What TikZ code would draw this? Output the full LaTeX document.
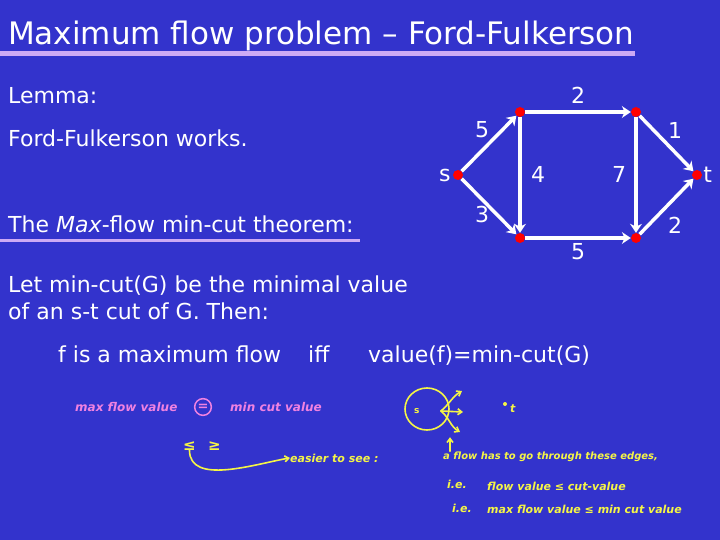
\documentclass[tikz,border=0pt]{standalone}
\usepackage{fontspec}
\setmainfont{DejaVu Sans}
\usetikzlibrary{
    positioning,      % For placing nodes relative to each other
    arrows.meta,      % For modern arrow tips
    calc              % For coordinate calculations
}
\definecolor{slideblue}{RGB}{51,51,204}
\definecolor{barlilac}{RGB}{205,170,245}
\definecolor{chalkpink}{RGB}{240,130,225}
\definecolor{chalkyellow}{RGB}{245,245,70}

\begin{document}
\begin{tikzpicture}[
    x=1pt, y=-1pt, % pixel coordinates, y pointing down
    % Global style settings
    title_style/.style={
        text=white,
        font=\fontsize{31}{36}\selectfont,
        anchor=base west, inner sep=0pt
    },
    body_style/.style={ % Style for the typed slide text
        text=white,
        font=\fontsize{22}{26}\selectfont,
        anchor=base west, inner sep=0pt
    },
    vertex/.style={
        circle, fill=red, minimum size=10pt, inner sep=0pt
    },
    flow_edge/.style={
        draw=white, line width=3.5pt,
        -{Stealth[length=9pt, width=12pt]}
    },
    cap_label/.style={
        text=white,
        font=\fontsize{22}{26}\selectfont,
        inner sep=1pt
    },
    pink_note/.style={ % Style for the pink handwriting
        text=chalkpink,
        font=\fontsize{12}{14}\selectfont\itshape\bfseries,
        anchor=base west, inner sep=0pt
    },
    yellow_note/.style={ % Style for the yellow handwriting
        text=chalkyellow,
        font=\fontsize{11}{13}\selectfont\itshape\bfseries,
        anchor=base west, inner sep=0pt
    },
    yellow_line/.style={
        draw=chalkyellow, line width=1.6pt, line cap=round
    },
    yellow_arrow/.style={
        yellow_line, -{Straight Barb[length=4pt, width=6pt]}
    }
]
    % 0. Slide background and fixed size.
    \fill[slideblue] (0,0) rectangle (720,540);
    \useasboundingbox (0,0) rectangle (720,540);

    % 1. Title with its bar.
    \node[title_style] (title) at (8,45) {Maximum flow problem – Ford-Fulkerson};
    \fill[barlilac] (0,51) rectangle (635,56);

    % 2. Slide text on the left.
    \node[body_style] (lemma) at (8,104) {Lemma:};
    \node[body_style] (works) at (8,147) {Ford-Fulkerson works.};
    \node[body_style] (theorem) at (8,233) {The \textit{Max}-flow min-cut theorem:};
    \fill[barlilac] (0,239) rectangle (360,242);
    \node[body_style] (letline) at (8,292) {Let min-cut(G) be the minimal value};
    \node[body_style] (ofline) at (8,319) {of an s-t cut of G. Then:};
    \node[body_style] (isflow) at (58,362) {f is a maximum flow};
    \node[body_style] (iff) at (308,362) {iff};
    \node[body_style] (equal) at (368,362) {value(f)=min-cut(G)};

    % 3. The flow network.
    \node[vertex] (s) at (458,175) {};
    \node[vertex] (a) at (520,112) {};
    \node[vertex] (b) at (636,112) {};
    \node[vertex] (c) at (520,238) {};
    \node[vertex] (d) at (636,238) {};
    \node[vertex] (t) at (697,175) {};
    \node[cap_label, left=1pt of s] {s};
    \node[cap_label, right=0pt of t] {t};

    \draw[flow_edge] (s) -- (a);
    \draw[flow_edge] (s) -- (c);
    \draw[flow_edge] (a) -- (b);
    \draw[flow_edge] (a) -- (c);
    \draw[flow_edge] (b) -- (d);
    \draw[flow_edge] (c) -- (d);
    \draw[flow_edge] (b) -- (t);
    \draw[flow_edge] (d) -- (t);

    % capacities
    \node[cap_label] at (578,95) {2};
    \node[cap_label] at (482,130) {5};
    \node[cap_label] at (675,130) {1};
    \node[cap_label] at (538,174) {4};
    \node[cap_label] at (619,174) {7};
    \node[cap_label] at (482,214) {3};
    \node[cap_label] at (578,252) {5};
    \node[cap_label] at (675,225) {2};

    % 4. Pink handwriting.
    \node[pink_note] (maxval) at (75,411) {max flow value};
    \node[text=chalkpink, font=\bfseries\fontsize{13}{15}\selectfont, draw=chalkpink, line width=1.5pt, circle, inner sep=1.5pt] (eqsign) at (203,407) {=};
    \node[pink_note] (minval) at (230,411) {min cut value};

    % 5. Yellow handwriting, left part.
    \node[yellow_note, font=\fontsize{15}{17}\selectfont\bfseries] (leq) at (183,450) {≤};
    \node[yellow_note, font=\fontsize{15}{17}\selectfont\bfseries] (geq) at (208,450) {≥};
    \node[yellow_note] (easier) at (290,462) {easier to see :};
    \draw[yellow_arrow] (leq.south) to[out=-90, in=190, looseness=0.9] (easier.west);

    % 6. Yellow sketch of a cut around s.
    \draw[yellow_line] (427,409) ellipse (22 and 21);
    \node[yellow_note, font=\fontsize{9}{11}\selectfont\bfseries] (sinside) at (414,413) {s};
    \coordinate (cutin) at (441,411);
    \coordinate (outup) at (462,391);
    \coordinate (outmid) at (463,412);
    \coordinate (outlow) at (460,432);
    \draw[yellow_arrow] (cutin) to[out=40, in=-150] (outup);
    \draw[yellow_arrow] (cutin) -- (outmid);
    \draw[yellow_arrow] (cutin) to[out=-40, in=150] (outlow);
    \fill[chalkyellow] (505,404) circle (2pt);
    \node[yellow_note] (tsink) at (510,412) {t};

    % 7. Yellow explanation lines.
    \node[yellow_note, font=\fontsize{10}{12}\selectfont\itshape\bfseries] (edges) at (443,459) {a flow has to go through these edges,};
    \draw[yellow_arrow] (edges.north west) ++(7,0) coordinate (upfoot) -- ++(0,-14) coordinate (uphead);
    \node[yellow_note] (ie1) at (447,488) {i.e.};
    \node[yellow_note] (cutval) at (487,490) {flow value ≤ cut-value};
    \node[yellow_note] (ie2) at (452,512) {i.e.};
    \node[yellow_note] (minmax) at (487,513) {max flow value ≤ min cut value};
\end{tikzpicture}
\end{document}
